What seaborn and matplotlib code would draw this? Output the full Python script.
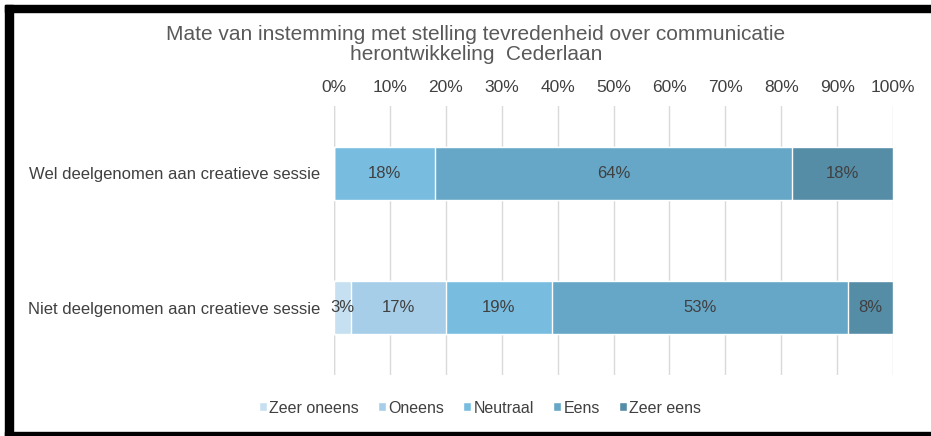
import numpy as np
import pandas as pd
import matplotlib
matplotlib.use("Agg")
import matplotlib.pyplot as plt
from matplotlib.patches import Rectangle
import seaborn as sns

# data
groups = ["Wel deelgenomen aan creatieve sessie", "Niet deelgenomen aan creatieve sessie"]
answers = ["Zeer oneens", "Oneens", "Neutraal", "Eens", "Zeer eens"]
wel = [0, 0, 18, 64, 18]
niet = [3, 17, 19, 53, 8]
colors = ["#c7e0f1", "#a6cee8", "#78bde0", "#66a7c7", "#558da7"]
xticks = [0, 10, 20, 30, 40, 50, 60, 70, 80, 90, 100]

df = pd.DataFrame({"groep": np.repeat(groups, len(answers)),
                   "antwoord": answers * 2,
                   "pct": wel + niet})
df["cum"] = df.groupby("groep", sort=False)["pct"].cumsum()
df["start"] = df["cum"] - df["pct"]

sns.set_style("white")
plt.rcParams["font.family"] = ["Liberation Sans", "DejaVu Sans"]
txt = "#404040"

fig = plt.figure(figsize=(9.31, 4.36), dpi=100)
ax = fig.add_axes([334 / 931, 1 - 375 / 436, 559 / 931, 269 / 436])

# stacked bars: draw cumulative totals from largest to smallest
for ans, col in reversed(list(zip(answers, colors))):
    sub = df[df["antwoord"] == ans]
    sns.barplot(data=sub, x="cum", y="groep", order=groups, color=col,
                orient="h", width=0.395, ax=ax, saturation=1, label=ans)

for _, r in df.iterrows():
    if r["pct"] > 0:
        ax.text(r["start"] + r["pct"] / 2, groups.index(r["groep"]), f"{r['pct']}%",
                ha="center", va="center", fontsize=12, color=txt)

ax.set_xlim(0, 100)
ax.set_ylim(1.5, -0.5)
ax.set_xticks(xticks)
ax.set_xticklabels([f"{t}%" for t in xticks], fontsize=12.5, color=txt)
ax.xaxis.tick_top()
ax.tick_params(axis="x", length=0, pad=8)
ax.tick_params(axis="y", length=0, pad=10, labelsize=12, labelcolor=txt)
ax.set_xlabel("")
ax.set_ylabel("")
ax.grid(axis="x", color="#d9d9d9", linewidth=1)
ax.set_axisbelow(True)
for s in ax.spines.values():
    s.set_visible(False)
ax.axvline(0, color="#d9d9d9", linewidth=1, zorder=0)

handles, labels = ax.get_legend_handles_labels()
order = [labels.index(a) for a in answers]
ax.legend([handles[i] for i in order], answers, loc="center",
          bbox_to_anchor=(480 / 931, 1 - 408 / 436),
          bbox_transform=fig.transFigure, ncol=5, frameon=False, fontsize=11.5,
          handlelength=0.5, handleheight=0.5, handletextpad=0.15, columnspacing=1.2,
          labelcolor=txt)

fig.text(476 / 931, 1 - 35 / 436, "Mate van instemming met stelling tevredenheid over communicatie",
         ha="center", va="center", fontsize=15, color="#595959")
fig.text(476 / 931, 1 - 55 / 436, "herontwikkeling  Cederlaan",
         ha="center", va="center", fontsize=15, color="#595959")

# black frame (top, left, bottom)
fig.patches.append(Rectangle((5 / 931, 1 - 12 / 436), 926 / 931, 7 / 436, transform=fig.transFigure, color="black"))
fig.patches.append(Rectangle((5 / 931, 0), 8 / 931, 1 - 5 / 436, transform=fig.transFigure, color="black"))
fig.patches.append(Rectangle((5 / 931, 0), 926 / 931, 4 / 436, transform=fig.transFigure, color="black"))

fig.savefig("out.png", dpi=100)
